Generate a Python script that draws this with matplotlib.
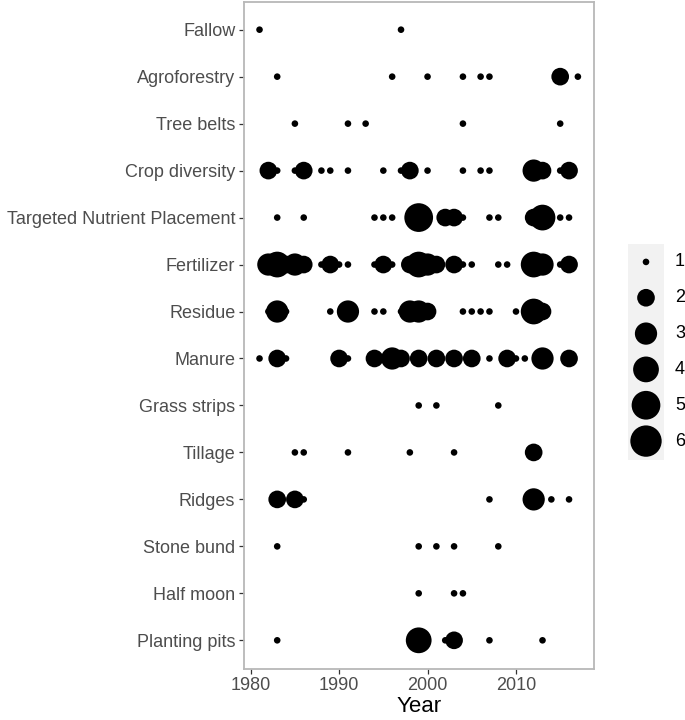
import numpy as np
import matplotlib
matplotlib.use("Agg")
import matplotlib.pyplot as plt

plt.rcParams['font.family'] = ['Liberation Sans', 'DejaVu Sans']

categories = ["Fallow", "Agroforestry", "Tree belts", "Crop diversity",
              "Targeted Nutrient Placement", "Fertilizer", "Residue", "Manure",
              "Grass strips", "Tillage", "Ridges", "Stone bund", "Half moon",
              "Planting pits"]

fallow_years = [1981, 1997]
fallow_counts = [1, 1]
agroforestry_years = [1983, 1996, 2000, 2004, 2006, 2007, 2015, 2017]
agroforestry_counts = [1, 1, 1, 1, 1, 1, 2, 1]
treebelts_years = [1985, 1991, 1993, 2004, 2015]
treebelts_counts = [1, 1, 1, 1, 1]
cropdiv_years = [1982, 1983, 1985, 1986, 1988, 1989, 1991, 1995, 1997, 1998,
                 2000, 2004, 2006, 2007, 2012, 2013, 2015, 2016]
cropdiv_counts = [2, 1, 1, 2, 1, 1, 1, 1, 1, 2, 1, 1, 1, 1, 3, 2, 1, 2]
tnp_years = [1983, 1986, 1994, 1995, 1996, 1999, 2002, 2003, 2004, 2007, 2008,
             2012, 2013, 2015, 2016]
tnp_counts = [1, 1, 1, 1, 1, 5, 2, 2, 1, 1, 1, 2, 4, 1, 1]
fertilizer_years = [1982, 1983, 1984, 1985, 1986, 1988, 1989, 1990, 1991, 1994,
                    1995, 1996, 1998, 1999, 2000, 2001, 2003, 2004, 2005, 2008,
                    2009, 2012, 2013, 2015, 2016]
fertilizer_counts = [3, 4, 2, 3, 2, 1, 2, 1, 1, 1, 2, 1, 2, 4, 3, 2, 2, 1, 1, 1,
                     1, 4, 3, 1, 2]
residue_years = [1982, 1983, 1984, 1989, 1991, 1994, 1995, 1997, 1998, 1999,
                 2000, 2004, 2005, 2006, 2007, 2010, 2012, 2013]
residue_counts = [1, 3, 1, 1, 3, 1, 1, 1, 3, 3, 2, 1, 1, 1, 1, 1, 4, 2]
manure_years = [1981, 1983, 1984, 1990, 1991, 1994, 1996, 1997, 1999, 2001,
                2003, 2005, 2007, 2009, 2010, 2011, 2013, 2016]
manure_counts = [1, 2, 1, 2, 1, 2, 3, 2, 2, 2, 2, 2, 1, 2, 1, 1, 3, 2]
grass_years = [1999, 2001, 2008]
grass_counts = [1, 1, 1]
tillage_years = [1985, 1986, 1991, 1998, 2003, 2012]
tillage_counts = [1, 1, 1, 1, 1, 2]
ridges_years = [1983, 1985, 1986, 2007, 2012, 2014, 2016]
ridges_counts = [2, 2, 1, 1, 3, 1, 1]
stonebund_years = [1983, 1999, 2001, 2003, 2008]
stonebund_counts = [1, 1, 1, 1, 1]
halfmoon_years = [1999, 2003, 2004]
halfmoon_counts = [1, 1, 1]
pits_years = [1983, 1999, 2002, 2003, 2007, 2013]
pits_counts = [1, 4, 1, 2, 1, 1]

x_ticks = [1980, 1990, 2000, 2010]
legend_values = [1, 2, 3, 4, 5, 6]

rows = [(fallow_years, fallow_counts), (agroforestry_years, agroforestry_counts),
        (treebelts_years, treebelts_counts), (cropdiv_years, cropdiv_counts),
        (tnp_years, tnp_counts), (fertilizer_years, fertilizer_counts),
        (residue_years, residue_counts), (manure_years, manure_counts),
        (grass_years, grass_counts), (tillage_years, tillage_counts),
        (ridges_years, ridges_counts), (stonebund_years, stonebund_counts),
        (halfmoon_years, halfmoon_counts), (pits_years, pits_counts)]


def marker_area(v):
    v = np.asarray(v, dtype=float)
    gg = 1 + 5 * np.sqrt((v - 1) / 5.0)       # ggplot area scale, range 1..6
    d_px = 1.74 * (2.845 * gg + 0.945)
    return (d_px * 0.72) ** 2


W, H = 685, 720
fig = plt.figure(figsize=(W / 100, H / 100), dpi=100)
ax = fig.add_axes([243.6 / W, 1 - 668.5 / H, (593.8 - 243.6) / W, (668.5 - 1.5) / H])

for i, (yrs, cnts) in enumerate(rows):
    ax.scatter(yrs, [i] * len(yrs), s=marker_area(cnts), color='black',
               linewidths=0, zorder=3)

ax.set_xlim(1979.2, 2018.8)
ax.set_ylim(len(categories) - 1 + 0.6, -0.6)
ax.set_yticks(range(len(categories)))
ax.set_yticklabels(categories)
ax.set_xticks(x_ticks)
ax.set_xticklabels([str(t) for t in x_ticks])
ax.tick_params(axis='both', labelsize=13, labelcolor='#4D4D4D', color='#333333',
               length=3.5, width=0.9, pad=2.5)
for sp in ax.spines.values():
    sp.set_color('#B8B8B8')
    sp.set_linewidth(1.3)
ax.set_xlabel("Year", fontsize=16, color='black', labelpad=1.5)

# legend
lax = fig.add_axes([628 / W, 1 - 460 / H, 36 / W, (460 - 244) / H])
lax.set_facecolor('#F2F2F2')
for sp in lax.spines.values():
    sp.set_visible(False)
lax.set_xticks([])
lax.set_yticks([])
lax.set_xlim(0, 1)
top = 1 - (262 - 244) / 36.0
bot = 6 + (460 - 441) / 36.0
lax.set_ylim(bot, top)
lax.scatter([0.5] * len(legend_values), legend_values, s=marker_area(legend_values),
            color='black', linewidths=0, clip_on=False)
for v in legend_values:
    lax.text(1.0 + 11 / 36.0, v, str(v), fontsize=13, color='black',
             va='center', ha='left', transform=lax.transData, clip_on=False)

fig.savefig("out.png", dpi=100)
